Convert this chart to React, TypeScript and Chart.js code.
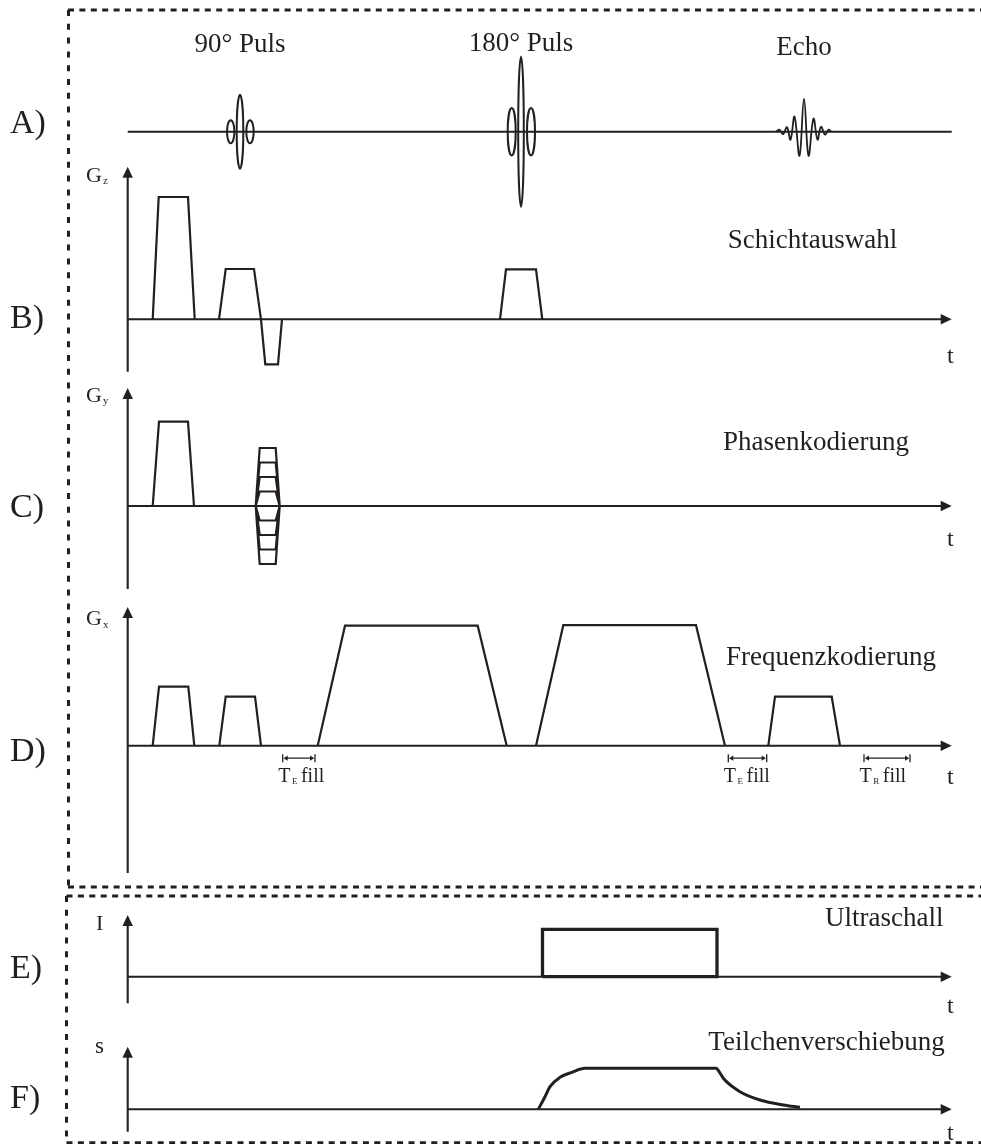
import React, { useEffect, useRef } from "react";
import { Chart, registerables } from "chart.js";

Chart.register(...registerables);

// ---------- layout (pixels, not data) ----------
const W = 981;
const H = 1144;
const ORIGIN_X = 127.7; // pixel position of t = 0 (the vertical axes)
const BASELINE: Record<string, number> = {
  yA: 131.7,
  yB: 319.3,
  yC: 506,
  yD: 745.7,
  yE: 976.7,
  yF: 1109.3,
};
const INK = "#231f20";
const SERIF = '"Liberation Serif", "Times New Roman", serif';

// ---------- data ----------
const rowLabels = ["A)", "B)", "C)", "D)", "E)", "F)"];
const rfTitles = ["90° Puls", "180° Puls", "Echo"];
const rfTitleTime = [112.3, 393.3, 676.3];
const channelTitles = ["Schichtauswahl", "Phasenkodierung", "Frequenzkodierung", "Ultraschall", "Teilchenverschiebung"];
const axisNames = ["G", "G", "G", "I", "s"];
const axisSubs = ["z", "y", "x", "", ""];
const timeEnd = 824; // end of every time axis

// A) RF pulses: lobes drawn as ellipses
const rfLobeTime = [103, 112.3, 122.3, 384, 393.3, 403.3];
const rfLobeHalfWidth = [3.7, 3.3, 3.7, 4, 2.8, 4];
const rfLobeHalfHeight = [11.5, 37, 11.5, 23.7, 75, 23.7];

// A) echo signal
const echoTime = [648.3, 651.8, 655.3, 659.3, 662.8, 666.8, 671.8, 676.3, 680.8, 685.8, 689.8, 693.3, 697.3, 700.8, 703.3];
const echoAmp = [0, 2, -2.5, 4.5, -8, 15, -24, 33, -24, 13, -8, 5, -3, 2, 0];

// gradient lobes: [ramp start, plateau start, plateau end, ramp end, amplitude]
const gzLobes = [
  [25, 31, 60.3, 67, 122.3],
  [91.3, 98, 126.3, 133.3, 50.3],
  [133.3, 137.6, 150.3, 154.3, -45],
  [372.3, 378.3, 408.3, 414.6, 50],
];
const gyLobes = [[25, 31.3, 60.3, 66.3, 84.3]];
const phaseTiming = [128, 132, 148, 152];
const phaseSteps = [58, 43.5, 29, 14.5, -14.5, -29, -43.5, -58];
const gxLobes = [
  [25, 31.3, 60.6, 66.6, 59],
  [91.6, 98, 127.3, 133.3, 49],
  [190, 217.3, 350, 379, 120],
  [408.3, 435.6, 568.3, 597.3, 120.5],
  [640.6, 647.3, 704, 712.3, 49],
];

// E) ultrasound intensity
const usTime = [414.8, 414.8, 589.3, 589.3, 414.8];
const usAmp = [0, 47.4, 47.4, 0, 0];

// F) particle displacement
const dispTime = [410.6, 417.3, 422.3, 432.3, 444, 457.3, 588.3, 592.5, 595.6, 612.3, 632.3, 655.6, 672.3];
const dispAmp = [0, 12.6, 22.6, 32, 37, 41, 41, 36, 31, 17.6, 9.3, 4.3, 2];

// D) fill intervals
const fillStart = [155, 600.6, 736.3];
const fillEnd = [187.3, 639, 782.3];
const fillSub = ["E", "E", "R"];

// ---------- axes layout (amplitude units of each row) ----------
const AXES = [
  { id: "yB", up: 152.6, down: 52.4, tBase: 363.3, name: 0, nameBase: 181.7 },
  { id: "yC", up: 118, down: 83, tBase: 546, name: 1, nameBase: 401.7 },
  { id: "yD", up: 138.7, down: 127.3, tBase: 784, name: 2, nameBase: 625 },
  { id: "yE", up: 61.7, down: 26.6, tBase: 1013, name: 3, nameBase: 930 },
  { id: "yF", up: 62.6, down: 22.4, tBase: 1140, name: 4, nameBase: 1053.3 },
];
const rowLabelBase = [133, 328, 517, 761, 978, 1108];
const rfTitleBase = [51.7, 50.7, 55];
const channelTitlePos = [
  [727.7, 248.3],
  [723, 450],
  [726, 665],
  [825, 926],
  [708.3, 1050],
];

function lobePoints(lobes: number[][]) {
  const pts: { x: number; y: number | null }[] = [];
  lobes.forEach(([a, b, c, d, amp]) => {
    pts.push({ x: a, y: 0 }, { x: b, y: amp }, { x: c, y: amp }, { x: d, y: 0 }, { x: d, y: null });
  });
  return pts;
}

function phasePoints() {
  const pts: { x: number; y: number | null }[] = [];
  phaseSteps.forEach((s) => {
    pts.push(
      { x: phaseTiming[0], y: 0 },
      { x: phaseTiming[1], y: s },
      { x: phaseTiming[2], y: s },
      { x: phaseTiming[3], y: 0 },
      { x: phaseTiming[3], y: null }
    );
  });
  return pts;
}

function zip(t: number[], a: number[]) {
  return t.map((v, i) => ({ x: v, y: a[i] }));
}

function dashedLine(ctx: CanvasRenderingContext2D, x1: number, y1: number, x2: number, y2: number, dash: number[]) {
  ctx.save();
  ctx.setLineDash(dash);
  ctx.lineWidth = 3;
  ctx.strokeStyle = INK;
  ctx.beginPath();
  ctx.moveTo(x1, y1);
  ctx.lineTo(x2, y2);
  ctx.stroke();
  ctx.restore();
}

const diagramPlugin = {
  id: "diagram",
  beforeDatasetsDraw(chart: any) {
    const ctx: CanvasRenderingContext2D = chart.ctx;
    const xs = chart.scales.x;
    ctx.save();
    // dashed frames
    const hd = [6, 5.4];
    const vd = [6, 7.8];
    dashedLine(ctx, 68, 10, W, 10, hd);
    dashedLine(ctx, 68.5, 10, 68.5, 887, vd);
    dashedLine(ctx, 68, 887, W, 887, hd);
    dashedLine(ctx, 66.5, 896, W, 896, hd);
    dashedLine(ctx, 66.5, 896, 66.5, 1143, vd);
    dashedLine(ctx, 66.5, 1142.7, W, 1142.7, hd);

    ctx.strokeStyle = INK;
    ctx.fillStyle = INK;
    ctx.lineWidth = 2.1;
    ctx.setLineDash([]);
    const x0 = xs.getPixelForValue(0);
    const xEnd = xs.getPixelForValue(timeEnd);
    // RF line
    const yA = chart.scales.yA.getPixelForValue(0);
    ctx.beginPath();
    ctx.moveTo(x0, yA);
    ctx.lineTo(xEnd, yA);
    ctx.stroke();
    const AL = 11;
    const AW = 5.2;
    AXES.forEach((ax) => {
      const ys = chart.scales[ax.id];
      const base = ys.getPixelForValue(0);
      const top = ys.getPixelForValue(ax.up);
      const bottom = ys.getPixelForValue(-ax.down);
      ctx.beginPath();
      ctx.moveTo(x0, bottom);
      ctx.lineTo(x0, top + AL - 1);
      ctx.moveTo(x0, base);
      ctx.lineTo(xEnd - AL + 1, base);
      ctx.stroke();
      ctx.beginPath();
      ctx.moveTo(x0, top);
      ctx.lineTo(x0 - AW, top + AL);
      ctx.lineTo(x0 + AW, top + AL);
      ctx.closePath();
      ctx.fill();
      ctx.beginPath();
      ctx.moveTo(xEnd, base);
      ctx.lineTo(xEnd - AL, base - AW);
      ctx.lineTo(xEnd - AL, base + AW);
      ctx.closePath();
      ctx.fill();
    });
    ctx.restore();
  },
  afterDatasetsDraw(chart: any) {
    const ctx: CanvasRenderingContext2D = chart.ctx;
    const xs = chart.scales.x;
    const yA = chart.scales.yA;
    const yD = chart.scales.yD;
    ctx.save();
    ctx.strokeStyle = INK;
    ctx.fillStyle = INK;
    // RF lobes
    ctx.lineWidth = 2;
    rfLobeTime.forEach((t, i) => {
      const cx = xs.getPixelForValue(t);
      const rx = Math.abs(xs.getPixelForValue(t + rfLobeHalfWidth[i]) - cx);
      const cy = yA.getPixelForValue(0);
      const ry = Math.abs(yA.getPixelForValue(rfLobeHalfHeight[i]) - cy);
      ctx.beginPath();
      ctx.ellipse(cx, cy, rx, ry, 0, 0, Math.PI * 2);
      ctx.stroke();
    });
    // fill interval markers
    ctx.lineWidth = 1.3;
    const my = yD.getPixelForValue(-12.5);
    fillStart.forEach((s, i) => {
      const a = xs.getPixelForValue(s);
      const b = xs.getPixelForValue(fillEnd[i]);
      ctx.beginPath();
      ctx.moveTo(a, my - 4);
      ctx.lineTo(a, my + 4);
      ctx.moveTo(b, my - 4);
      ctx.lineTo(b, my + 4);
      ctx.moveTo(a + 4, my);
      ctx.lineTo(b - 4, my);
      ctx.stroke();
      ctx.beginPath();
      ctx.moveTo(a + 0.8, my);
      ctx.lineTo(a + 5, my - 2.6);
      ctx.lineTo(a + 5, my + 2.6);
      ctx.closePath();
      ctx.fill();
      ctx.beginPath();
      ctx.moveTo(b - 0.8, my);
      ctx.lineTo(b - 5, my - 2.6);
      ctx.lineTo(b - 5, my + 2.6);
      ctx.closePath();
      ctx.fill();
      // label
      const tx = a - 4.5;
      const tb = yD.getPixelForValue(-36);
      ctx.textAlign = "left";
      ctx.textBaseline = "alphabetic";
      ctx.font = `20px ${SERIF}`;
      ctx.fillText("T", tx, tb);
      const tw = ctx.measureText("T").width;
      ctx.font = `9px ${SERIF}`;
      ctx.fillText(fillSub[i], tx + tw + 1.5, tb + 2.5);
      const sw = ctx.measureText(fillSub[i]).width;
      ctx.font = `20px ${SERIF}`;
      ctx.fillText("fill", tx + tw + sw + 5, tb);
    });

    // texts
    ctx.textBaseline = "alphabetic";
    ctx.font = `34px ${SERIF}`;
    ctx.textAlign = "left";
    rowLabels.forEach((l, i) => ctx.fillText(l, 10, rowLabelBase[i]));

    ctx.font = `27px ${SERIF}`;
    ctx.textAlign = "center";
    rfTitles.forEach((t, i) => ctx.fillText(t, xs.getPixelForValue(rfTitleTime[i]), rfTitleBase[i]));
    ctx.textAlign = "left";
    channelTitles.forEach((t, i) => ctx.fillText(t, channelTitlePos[i][0], channelTitlePos[i][1]));

    AXES.forEach((ax) => {
      // time label
      ctx.font = `24px ${SERIF}`;
      ctx.textAlign = "left";
      ctx.fillText("t", 947, ax.tBase);
      // axis name
      const n = axisNames[ax.name];
      const sub = axisSubs[ax.name];
      const nx = n === "G" ? 86 : n === "I" ? 96 : 95;
      ctx.font = n === "s" ? `23px ${SERIF}` : `22px ${SERIF}`;
      ctx.fillText(n, nx, ax.nameBase);
      if (sub) {
        const w = ctx.measureText(n).width;
        ctx.font = `11px ${SERIF}`;
        ctx.fillText(sub, nx + w + 1, ax.nameBase + 2.5);
      }
    });
    ctx.restore();
  },
};

function yScale(id: string) {
  const b = BASELINE[id];
  return {
    type: "linear" as const,
    display: false,
    min: -(H - b),
    max: b,
    bounds: "data" as const,
  };
}

export default function App() {
  const ref = useRef<HTMLCanvasElement | null>(null);
  useEffect(() => {
    if (!ref.current) return;
    const common = {
      borderColor: INK,
      pointRadius: 0,
      fill: false,
      spanGaps: false,
      xAxisID: "x",
    };
    const chart = new Chart(ref.current, {
      type: "line",
      data: {
        datasets: [
          { ...common, data: zip(echoTime, echoAmp), yAxisID: "yA", borderWidth: 1.8, tension: 0.4 },
          { ...common, data: lobePoints(gzLobes), yAxisID: "yB", borderWidth: 2.2, borderJoinStyle: "miter" },
          { ...common, data: lobePoints(gyLobes), yAxisID: "yC", borderWidth: 2.2, borderJoinStyle: "miter" },
          { ...common, data: phasePoints(), yAxisID: "yC", borderWidth: 2.2, borderJoinStyle: "miter" },
          { ...common, data: lobePoints(gxLobes), yAxisID: "yD", borderWidth: 2.2, borderJoinStyle: "miter" },
          { ...common, data: zip(usTime, usAmp), yAxisID: "yE", borderWidth: 3.3, borderJoinStyle: "miter" },
          { ...common, data: zip(dispTime, dispAmp), yAxisID: "yF", borderWidth: 3, cubicInterpolationMode: "monotone" },
        ] as any,
      },
      options: {
        animation: false,
        responsive: false,
        maintainAspectRatio: false,
        devicePixelRatio: 1,
        layout: { padding: 0 },
        events: [],
        plugins: { legend: { display: false }, tooltip: { enabled: false } },
        scales: {
          x: { type: "linear", display: false, min: -ORIGIN_X, max: W - ORIGIN_X, bounds: "data" },
          yA: yScale("yA"),
          yB: yScale("yB"),
          yC: yScale("yC"),
          yD: yScale("yD"),
          yE: yScale("yE"),
          yF: yScale("yF"),
        } as any,
      },
      plugins: [diagramPlugin],
    });
    return () => chart.destroy();
  }, []);
  return (
    <div style={{ position: "absolute", left: 0, top: 0, width: W, height: H, background: "#fff" }}>
      <canvas ref={ref} width={W} height={H} style={{ display: "block", width: W, height: H }} />
    </div>
  );
}
